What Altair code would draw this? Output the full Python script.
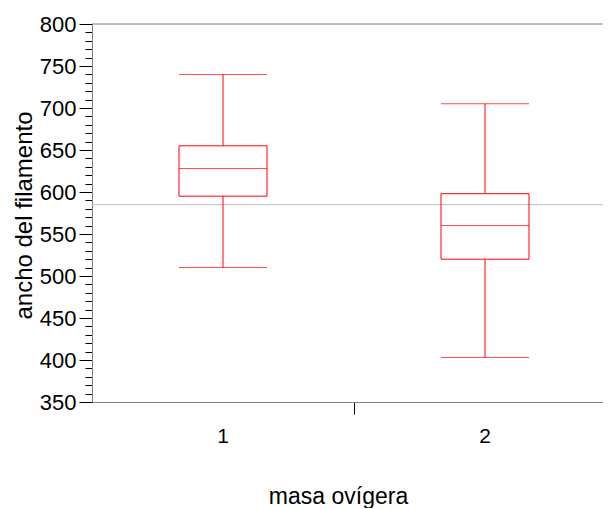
import altair as alt
import pandas as pd

groups = ["1", "2"]
mins = [510, 403]
q1s = [595, 520]
medians = [628, 560]
q3s = [655, 598]
maxs = [740, 705]
grand_mean = [585]
y_major = [350, 400, 450, 500, 550, 600, 650, 700, 750, 800]
y_minor = list(range(350, 801, 10))

df = pd.DataFrame({"masa": groups, "lo": mins, "q1": q1s, "med": medians, "q3": q3s, "hi": maxs})
mean_df = pd.DataFrame({"mean": grand_mean})

FONT = "Liberation Sans"
RED = "#ff0000"
W, H = 511, 378

xscale = alt.Scale(domain=groups, paddingInner=0, paddingOuter=0, range=[0, 524])
yscale = alt.Scale(domain=[350, 800], nice=False, zero=False)

xaxis = alt.Axis(
    title="masa ovígera", bandPosition=0, tickSize=12,
    tickColor={"condition": {"test": "datum.value === '1'", "value": "transparent"}, "value": "black"},
    domainColor="#7f7f7f", labelAngle=0, labelPadding=11, labelFontSize=21,
    titleFontSize=23, titleX=246, titleY=101, titleBaseline="alphabetic", titleAlign="center",
    labelColor="black", titleColor="black", titleFontWeight="normal", grid=False,
    labelFont=FONT, titleFont=FONT,
)
yaxis_major = alt.Axis(
    title="ancho del filamento", values=y_major, tickSize=13, tickColor="black",
    domainColor="#7f7f7f", labelFontSize=22, labelPadding=3, titleFontSize=24,
    titleX=-68, titleY=191, titleAngle=-90, titleBaseline="middle", titleAlign="center",
    grid=False, labelColor="black", titleColor="black", titleFontWeight="normal",
    labelFont=FONT, titleFont=FONT, orient="left",
)
yaxis_minor = alt.Axis(
    title="", values=y_minor, tickSize=7, labels=False, domain=False, grid=False,
    tickColor="black", orient="left",
)

X = alt.X("masa:N", scale=xscale, axis=xaxis)

base = alt.Chart(df)
whisk_lo = base.mark_rule(color=RED, strokeWidth=1).encode(
    x=X, y=alt.Y("lo:Q", scale=yscale, axis=yaxis_major), y2="q1:Q")
whisk_hi = base.mark_rule(color=RED, strokeWidth=1).encode(
    x=X, y=alt.Y("q3:Q", scale=yscale, axis=yaxis_major), y2="hi:Q")
box = base.mark_bar(size=88, fill="transparent", stroke=RED, strokeWidth=1).encode(
    x=X, y=alt.Y("q1:Q", scale=yscale, axis=yaxis_major), y2="q3:Q")
med = base.mark_tick(size=88, thickness=1, color=RED).encode(
    x=X, y=alt.Y("med:Q", scale=yscale, axis=yaxis_major))
cap_lo = base.mark_tick(size=88, thickness=1, color=RED).encode(
    x=X, y=alt.Y("lo:Q", scale=yscale, axis=yaxis_major))
cap_hi = base.mark_tick(size=88, thickness=1, color=RED).encode(
    x=X, y=alt.Y("hi:Q", scale=yscale, axis=yaxis_major))

inner = alt.layer(whisk_lo, whisk_hi, box, med, cap_lo, cap_hi)

mean_rule = alt.Chart(mean_df).mark_rule(color="#c0c0c0", strokeWidth=1).encode(
    y=alt.Y("mean:Q", scale=yscale, axis=yaxis_minor))

top_border = alt.Chart(mean_df).mark_rule(color="#7f7f7f", strokeWidth=1).encode(
    y=alt.value(0), x=alt.value(0), x2=alt.value(W))

chart = alt.layer(mean_rule, top_border, inner).resolve_axis(y="independent").properties(
    width=W, height=H,
    autosize=alt.AutoSizeParams(type="none"),
    padding={"left": 84, "top": 16, "right": 0, "bottom": 106},
    background="white",
).configure_view(stroke=None)

chart.save("out.html", embed_options={"renderer": "svg", "actions": False})
